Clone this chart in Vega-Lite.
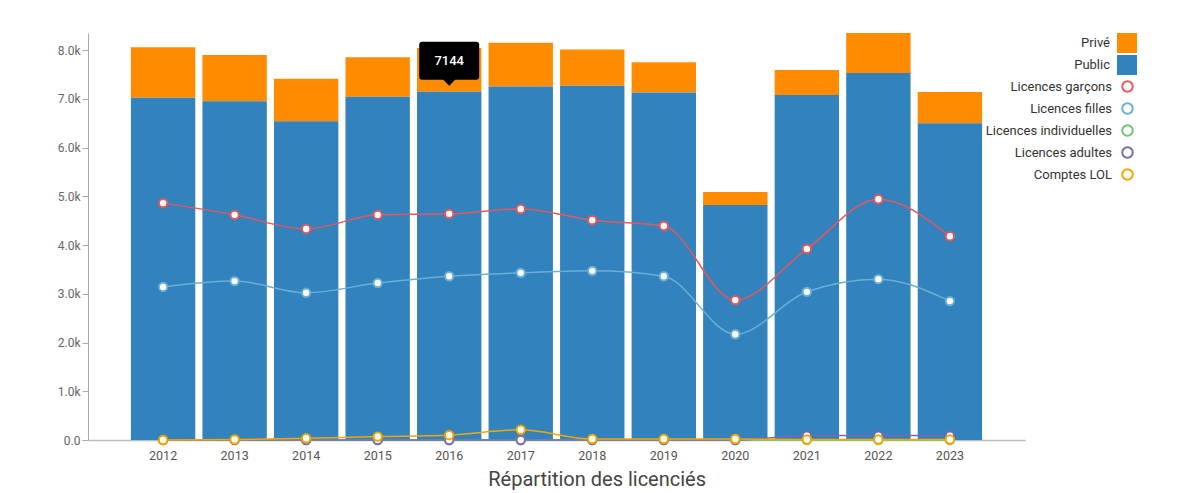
{
  "$schema": "https://vega.github.io/schema/vega-lite/v6.json",
  "width": 937,
  "height": 407,
  "autosize": {"type": "none"},
  "padding": {"left": 88, "top": 33, "right": 179, "bottom": 53},
  "background": "white",
  "config": {
    "font": "Roboto",
    "view": {"stroke": null},
    "axis": {"labelFont": "Roboto", "grid": false}
  },
  "title": {
    "text": "Répartition des licenciés",
    "orient": "bottom",
    "anchor": "middle",
    "frame": "bounds",
    "fontSize": 20,
    "fontWeight": "normal",
    "color": "#444",
    "offset": 8
  },
  "data": {
    "values": [
      {"year": "2012", "Public": 7020, "Privé": 1040, "Licences garçons": 4860, "Licences filles": 3140, "Licences individuelles": 0, "Licences adultes": 0, "Comptes LOL": 0},
      {"year": "2013", "Public": 6950, "Privé": 950, "Licences garçons": 4620, "Licences filles": 3260, "Licences individuelles": 0, "Licences adultes": 0, "Comptes LOL": 10},
      {"year": "2014", "Public": 6540, "Privé": 870, "Licences garçons": 4330, "Licences filles": 3020, "Licences individuelles": 0, "Licences adultes": 0, "Comptes LOL": 35},
      {"year": "2015", "Public": 7040, "Privé": 810, "Licences garçons": 4620, "Licences filles": 3220, "Licences individuelles": 0, "Licences adultes": 0, "Comptes LOL": 70},
      {"year": "2016", "Public": 7144, "Privé": 896, "Licences garçons": 4640, "Licences filles": 3360, "Licences individuelles": 0, "Licences adultes": 0, "Comptes LOL": 100},
      {"year": "2017", "Public": 7250, "Privé": 900, "Licences garçons": 4740, "Licences filles": 3430, "Licences individuelles": 0, "Licences adultes": 0, "Comptes LOL": 210},
      {"year": "2018", "Public": 7270, "Privé": 740, "Licences garçons": 4510, "Licences filles": 3470, "Licences individuelles": 0, "Licences adultes": 0, "Comptes LOL": 20},
      {"year": "2019", "Public": 7130, "Privé": 620, "Licences garçons": 4390, "Licences filles": 3360, "Licences individuelles": 0, "Licences adultes": 0, "Comptes LOL": 20},
      {"year": "2020", "Public": 4820, "Privé": 270, "Licences garçons": 2870, "Licences filles": 2170, "Licences individuelles": 0, "Licences adultes": 0, "Comptes LOL": 20},
      {"year": "2021", "Public": 7080, "Privé": 510, "Licences garçons": 3920, "Licences filles": 3040, "Licences individuelles": 0, "Licences adultes": 90, "Comptes LOL": 10},
      {"year": "2022", "Public": 7530, "Privé": 820, "Licences garçons": 4940, "Licences filles": 3300, "Licences individuelles": 0, "Licences adultes": 90, "Comptes LOL": 10},
      {"year": "2023", "Public": 6500, "Privé": 640, "Licences garçons": 4180, "Licences filles": 2850, "Licences individuelles": 0, "Licences adultes": 90, "Comptes LOL": 10}
    ]
  },
  "encoding": {
    "x": {
      "field": "year",
      "type": "ordinal",
      "scale": {"paddingInner": 0.1, "paddingOuter": 0.6},
      "axis": {
        "title": null,
        "labelAngle": 0,
        "ticks": false,
        "labelPadding": 9,
        "labelFontSize": 12.5,
        "labelColor": "#555",
        "domainColor": "#bbb",
        "domainWidth": 1.5
      }
    }
  },
  "layer": [
    {
      "transform": [{"fold": ["Privé", "Public"], "as": ["type", "value"]}],
      "mark": {"type": "bar"},
      "encoding": {
        "y": {
          "field": "value",
          "type": "quantitative",
          "stack": "zero",
          "scale": {"domain": [0, 8350], "nice": false, "zero": true},
          "axis": {
            "title": null,
            "values": [0, 1000, 2000, 3000, 4000, 5000, 6000, 7000, 8000],
            "format": ".2s",
            "labelFontSize": 12,
            "labelColor": "#666",
            "tickColor": "#aaa",
            "domainColor": "#aaa",
            "tickSize": 6,
            "labelPadding": 2
          }
        },
        "fill": {
          "field": "type",
          "type": "nominal",
          "scale": {"domain": ["Privé", "Public"], "range": ["#ff8c00", "#3182bd"]},
          "legend": {
            "title": null,
            "orient": "none",
            "legendX": 1029,
            "legendY": 0,
            "symbolType": "square",
            "symbolSize": 400,
            "symbolStrokeWidth": 0,
            "labelAlign": "right",
            "labelOffset": -27,
            "labelFontSize": 13,
            "labelColor": "#333",
            "rowPadding": 2,
            "padding": 0
          }
        },
        "order": {"field": "type", "sort": "descending"}
      }
    },
    {
      "transform": [{"fold": ["Licences garçons", "Licences filles", "Licences individuelles", "Licences adultes", "Comptes LOL"], "as": ["serie", "value"]}],
      "mark": {"type": "line", "interpolate": "monotone", "strokeWidth": 1.5},
      "encoding": {
        "y": {"field": "value", "type": "quantitative"},
        "stroke": {
          "field": "serie",
          "type": "nominal",
          "scale": {
            "domain": ["Licences garçons", "Licences filles", "Licences individuelles", "Licences adultes", "Comptes LOL"],
            "range": ["#e8575a", "#6baed6", "#74c476", "#756bb1", "#f5a700"]
          },
          "legend": {
            "title": null,
            "orient": "none",
            "legendX": 1033,
            "legendY": 47,
            "symbolType": "circle",
            "symbolSize": 110,
            "symbolStrokeWidth": 2,
            "symbolFillColor": "white",
            "labelAlign": "right",
            "labelOffset": -22,
            "labelFontSize": 13,
            "labelColor": "#333",
            "rowPadding": 3,
            "padding": 0
          }
        }
      }
    },
    {
      "transform": [{"fold": ["Licences garçons", "Licences filles", "Licences individuelles", "Licences adultes", "Comptes LOL"], "as": ["serie", "value"]}],
      "mark": {"type": "point", "filled": false, "fill": "white", "fillOpacity": 1, "size": 70, "strokeWidth": 2, "opacity": 1},
      "encoding": {
        "y": {"field": "value", "type": "quantitative"},
        "stroke": {"field": "serie", "type": "nominal"}
      }
    },
    {
      "transform": [{"filter": "datum.year == '2016'"}],
      "mark": {
        "type": "point",
        "shape": "M-27,-50 L27,-50 Q30,-50 30,-47 L30,-15 Q30,-12 27,-12 L6,-12 L0,-6 L-6,-12 L-27,-12 Q-30,-12 -30,-15 L-30,-47 Q-30,-50 -27,-50 Z",
        "size": 4,
        "filled": true,
        "fill": "#000",
        "opacity": 1,
        "strokeWidth": 0
      },
      "encoding": {
        "y": {"field": "Public", "type": "quantitative"}
      }
    },
    {
      "transform": [{"filter": "datum.year == '2016'"}],
      "mark": {
        "type": "text",
        "dy": -31,
        "color": "white",
        "fontSize": 13,
        "fontWeight": 500,
        "baseline": "middle",
        "align": "center"
      },
      "encoding": {
        "y": {"field": "Public", "type": "quantitative"},
        "text": {"field": "Public", "type": "quantitative", "format": "d"}
      }
    }
  ]
}
